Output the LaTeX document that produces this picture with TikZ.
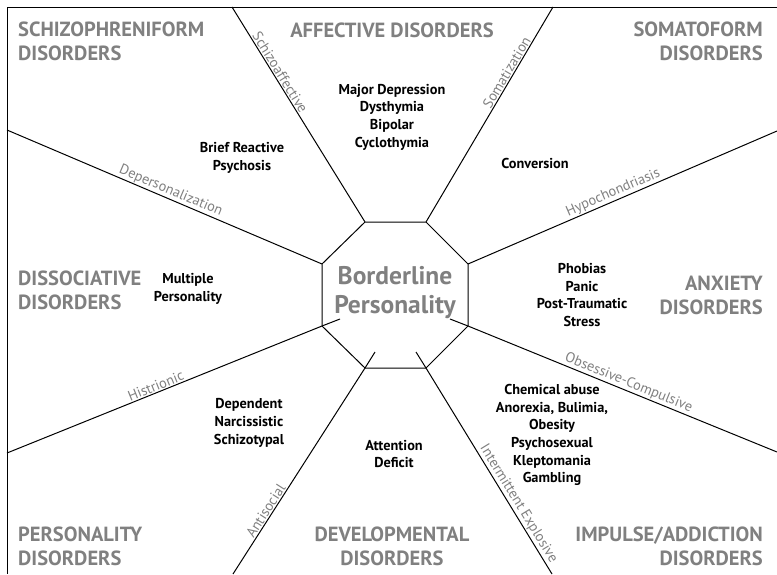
\documentclass[tikz,border=0pt]{standalone}
\usepackage{fontspec}
\setmainfont{PT Sans}
\usetikzlibrary{positioning}

\begin{document}
\begin{tikzpicture}[x=1pt, y=-1pt]
    \tikzstyle{group} = [text=gray, font=\fontsize{20.5}{24}\selectfont\bfseries, inner sep=0pt]
    \tikzstyle{item} = [font=\fontsize{14.3}{17.7}\selectfont\bfseries, align=center, inner sep=0pt]
    \tikzstyle{spoke} = [draw, line width=1pt]
    \tikzstyle{tag} = [text=gray, font=\fontsize{14.3}{16}\selectfont, sloped, above, inner sep=1pt]

    \useasboundingbox (0,0) rectangle (777,574);

    % frame
    \coordinate (frametop) at (777,7);
    \coordinate (framecorner) at (7,7);
    \coordinate (framebottom) at (7,574);
    \path[spoke] (frametop) -- (framecorner) -- (framebottom);

    % octagon
    \coordinate (o1) at (365,222);
    \coordinate (o2) at (426,222);
    \coordinate (o3) at (468,264);
    \coordinate (o4) at (468,326);
    \coordinate (o5) at (426,368);
    \coordinate (o6) at (365,368);
    \coordinate (o7) at (322,326);
    \coordinate (o8) at (322,264);
    \path[spoke] (o1) -- (o2) -- (o3) -- (o4) -- (o5) -- (o6) -- (o7) -- (o8) -- cycle;
    \node[text=gray, font=\fontsize{25.5}{29}\selectfont\bfseries, align=center, inner sep=0pt] (borderline) at (395,293) {Borderline\\Personality};

    % spoke ends
    \coordinate (e1) at (232,7);
    \coordinate (e2) at (553,7);
    \coordinate (e3) at (777,131);
    \coordinate (e4) at (777,452);
    \coordinate (e5) at (552,574);
    \coordinate (e6) at (233,574);
    \coordinate (e7) at (7,453);
    \coordinate (e8) at (7,130);
    \coordinate (s4) at (450,319);
    \coordinate (s5) at (416,352);
    \coordinate (s6) at (375,352);
    \coordinate (s7) at (340,319);

    \path[spoke] (e1) -- node[tag, pos=0.32] {Schizoaffective} (o1);
    \path[spoke] (o2) -- node[tag, pos=0.68] {Somatization} (e2);
    \path[spoke] (o3) -- node[tag, pos=0.48] {Hypochondriasis} (e3);
    \path[spoke] (s4) -- (o4) -- node[tag, pos=0.51] {Obsessive-Compulsive} (e4);
    \path[spoke] (s5) -- (o5) -- node[tag, pos=0.68] {Intermittent Explosive} (e5);
    \path[spoke] (s6) -- (o6) -- node[tag, pos=0.71] {Antisocial} (e6);
    \path[spoke] (s7) -- (o7) -- node[tag, pos=0.52] {Histrionic} (e7);
    \path[spoke] (o8) -- node[tag, pos=0.49] {Depersonalization} (e8);

    % disorder groups
    \node[group, anchor=north west, align=left] (schizo) at (18,22) {SCHIZOPHRENIFORM\\DISORDERS};
    \node[group, anchor=north] (affective) at (392,23) {AFFECTIVE DISORDERS};
    \node[group, anchor=north east, align=right] (somato) at (763,22) {SOMATOFORM\\DISORDERS};
    \node[group, anchor=north west, align=left] (dissoc) at (18,271) {DISSOCIATIVE\\DISORDERS};
    \node[group, anchor=north east, align=right] (anxiety) at (763,276) {ANXIETY\\DISORDERS};
    \node[group, anchor=north west, align=left] (person) at (18,527) {PERSONALITY\\DISORDERS};
    \node[group, anchor=north, align=center] (develop) at (392,527) {DEVELOPMENTAL\\DISORDERS};
    \node[group, anchor=north east, align=right] (impulse) at (763,527) {IMPULSE/ADDICTION\\DISORDERS};

    % examples
    \node[item] (affitems) at (392,117) {Major Depression\\Dysthymia\\Bipolar\\Cyclothymia};
    \node[item] (brief) at (242,158) {Brief Reactive\\Psychosis};
    \node[item] (conversion) at (535,163) {Conversion};
    \node[item] (anxitems) at (582,295) {Phobias\\Panic\\Post-Traumatic\\Stress};
    \node[item] (multiple) at (188,289) {Multiple\\Personality};
    \node[item] (persitems) at (249,423) {Dependent\\Narcissistic\\Schizotypal};
    \node[item] (attention) at (394,454) {Attention\\Deficit};
    \node[item] (impitems) at (552,435) {Chemical abuse\\Anorexia, Bulimia,\\Obesity\\Psychosexual\\Kleptomania\\Gambling};
\end{tikzpicture}
\end{document}
